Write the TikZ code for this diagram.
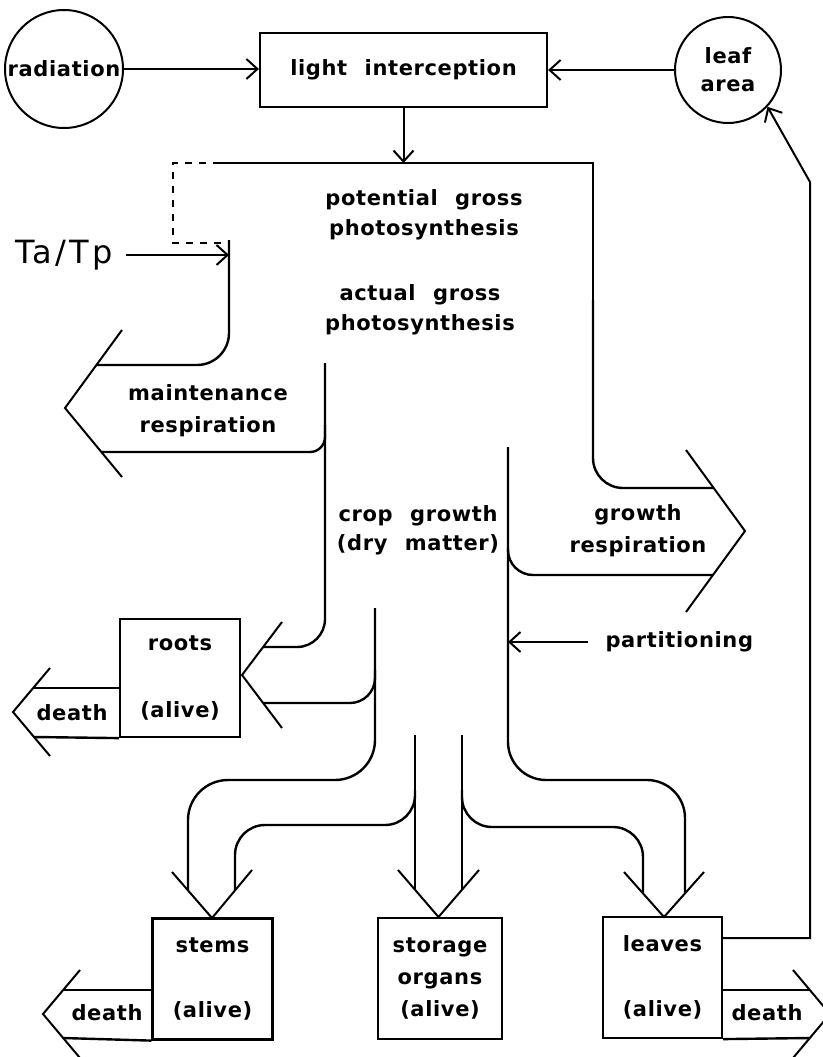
\documentclass[tikz,border=0pt]{standalone}
\usepackage{fontspec}
\setmainfont{DejaVu Sans}[WordSpace=2.2,LetterSpace=3]
\newfontfamily\ratiofont{DejaVu Sans}[LetterSpace=10]
\usepackage{tikz}
\usetikzlibrary{arrows.meta}
\newcommand{\flowfont}{\fontsize{21}{30}\selectfont\bfseries}
\tikzstyle{pool} = [rectangle, draw, line width=2.2pt, minimum width=120pt, minimum height=121pt, inner sep=0pt, align=center, font=\flowfont]
\tikzstyle{driver} = [circle, draw, line width=2pt, inner sep=1pt, align=center, font=\flowfont]
\tikzstyle{flowtext} = [draw=none, fill=none, align=center, font=\flowfont]
\tikzstyle{channel} = [draw, line width=2.4pt]
\tikzstyle{head} = [draw, line width=2pt]
\tikzstyle{switch} = [draw, line width=2.2pt, dash pattern=on 7pt off 7pt]
\tikzstyle{link} = [draw, line width=2pt, -{Straight Barb[length=11pt,width=20pt]}]

\begin{document}
\begin{tikzpicture}[x=1pt, y=-1pt]
\useasboundingbox (0,0) rectangle (822,1057);

% drivers and pools =============================
\node[driver, minimum size=118pt] (radiation) at (64,69) {radiation};
\node[driver, minimum size=106pt] (leaf) at (728,70) {leaf\\[-2pt]area};
\node[pool, minimum width=287pt, minimum height=74pt] (light) at (403.5,70) {light interception};
\node[pool, minimum height=118pt] (roots) at (180,678) {roots\\[37pt](alive)};
\node[pool] (stems) at (212.5,979) {stems\\[35pt](alive)};
\node[pool, minimum width=124pt] (storage) at (440,978.5) {storage\\[2pt]organs\\[2pt](alive)};
\node[pool, minimum width=119pt] (leaves) at (662.5,977.5) {leaves\\[35pt](alive)};

\node[flowtext, font=\ratiofont\fontsize{32}{34}\selectfont] (tatp) at (64,255) {Ta/Tp};
\node[flowtext] (pgross) at (424,215) {potential gross\\photosynthesis};
\node[flowtext] (agross) at (420,310) {actual gross\\photosynthesis};
\node[flowtext] (maint) at (208,411) {maintenance\\[2pt]respiration};
\node[flowtext] (crop) at (418,530) {crop growth\\[-1pt](dry matter)};
\node[flowtext] (gresp) at (638,531) {growth\\[2pt]respiration};
\node[flowtext, anchor=west] (part) at (602,642) {partitioning};
\node[flowtext] (rdeath) at (72,713) {death};
\node[flowtext] (sdeath) at (107,1013) {death};
\node[flowtext] (ldeath) at (767,1013) {death};

% turning points of the channels
\coordinate (gtop) at (593,163);
\coordinate (ltop) at (229,243);
\coordinate (gin) at (508,447);
\coordinate (fb1) at (810,938);
\coordinate (fb2) at (810,182);

% channels =============================
\path[channel] (220,163) -- (gtop) -- (593,300);
\path[channel, rounded corners=30pt] (593,300) -- (593,488) -- (713,488);
\path[switch] (220,163) -- (173,163) -- (173,243) -- (ltop);
\path[channel, rounded corners=32pt] (229,240) -- (229,365) -- (96,365);
\path[channel, rounded corners=15pt] (101,452) -- (325,452) -- (325,425);
\path[channel, rounded corners=28pt] (325,363) -- (325,647) -- (263,647);
\path[channel, rounded corners=25pt] (263,703) -- (375,703) -- (375,670);
\path[channel, rounded corners=40pt] (375,608) -- (375,780) -- (188,780) -- (188,890);
\path[channel] (415,735) -- (415,890);
\path[channel, rounded corners=30pt] (415,790) -- (415,825) -- (235,825) -- (235,890);
\path[channel] (462,735) -- (462,890);
\path[channel, rounded corners=30pt] (462,790) -- (462,827) -- (643,827) -- (643,893);
\path[channel, rounded corners=38pt] (gin) -- (508,780) -- (685,780) -- (685,893);
\path[channel, rounded corners=25pt] (713,575) -- (508,575) -- (508,548);

% death channels
\path[channel] (roots.west |- 0,688) -- (33,688);
\path[channel] (roots.south west) -- (34,737);
\path[channel] (stems.west |- 0,990) -- (63,990);
\path[channel] (stems.south west) -- (63,1038);
\path[channel] (leaves.east |- 0,990) -- (810,990);
\path[channel] (leaves.south east) -- (810,1038);

% heads
\path[head] (122,330) -- (65,408) -- (122,477);
\path[head] (686,450) -- (745,531) -- (686,612);
\path[head] (282,622) -- (242,675) -- (282,728);
\path[head] (172,872) -- (212,918) -- (252,870);
\path[head] (398,870) -- (438.5,917) -- (479,870);
\path[head] (624,872) -- (664,917) -- (704,872);
\path[head] (50,668) -- (13,712) -- (50,756);
\path[head] (80,970) -- (43,1014) -- (80,1058);
\path[head] (793,970) -- (830,1014) -- (793,1058);

% edges
\path[link] (radiation.east) -- (radiation.east -| light.west);
\path[link] (leaf.west) -- (leaf.west -| light.east);
\path[link] (light.south) -- (light.south |- gtop);
\path[link] ([xshift=10pt]tatp.east) -- (tatp.east -| ltop);
\path[link, shorten <=14pt] (part.west) -- (part.west -| gin);
\path[link] (leaves.east |- fb1) -- (fb1) -- (fb2) -- (leaf.-43);

\end{tikzpicture}
\end{document}
